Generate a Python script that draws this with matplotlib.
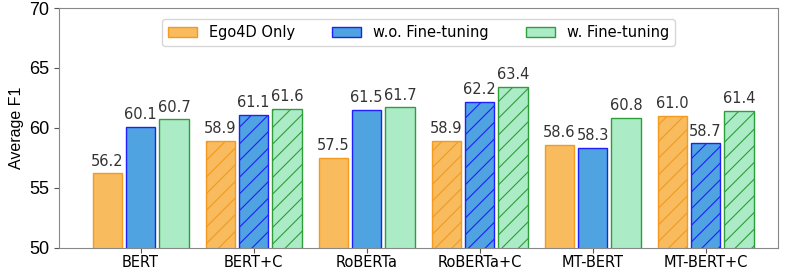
import numpy as np
import matplotlib.pyplot as plt

# data
models = ["BERT", "BERT+C", "RoBERTa", "RoBERTa+C", "MT-BERT", "MT-BERT+C"]
ego4d_only = [56.2, 58.9, 57.5, 58.9, 58.6, 61.0]
wo_finetune = [60.1, 61.1, 61.5, 62.2, 58.3, 58.7]
w_finetune = [60.7, 61.6, 61.7, 63.4, 60.8, 61.4]
hatched = [False, True, False, True, False, True]

series = [
    ("Ego4D Only", ego4d_only, "#f8bb5e", "#f39a1f"),
    ("w.o. Fine-tuning", wo_finetune, "#4fa3e0", "#1f1fff"),
    ("w. Fine-tuning", w_finetune, "#abebc6", "#2e9e3a"),
]

plt.rcParams['hatch.linewidth'] = 0.8
fig, ax = plt.subplots(figsize=(7.89, 2.72), dpi=100)

x = np.arange(len(models))
width = 0.26
offsets = [-0.295, 0, 0.295]

for (label, vals, fc, ec), off in zip(series, offsets):
    for i, v in enumerate(vals):
        ax.bar(x[i] + off, v, width, color=fc, edgecolor=ec, linewidth=1.0,
               hatch='//' if hatched[i] else None,
               label=label if i == 0 else None)
        ax.text(x[i] + off, v + 0.4, f"{v:.1f}", ha='center', va='bottom',
                fontsize=10.5, color='#333333')

ax.set_ylim(50, 70)
ax.set_xlim(-0.72, 5.64)
ax.set_yticks([50, 55, 60, 65, 70])
ax.set_yticklabels(["50", "55", "60", "65", "70"], fontsize=13, family='Liberation Sans')
ax.set_xticks(x)
ax.set_xticklabels(models, fontsize=10.5)
ax.tick_params(axis='x', pad=2)
ax.set_ylabel("Average F1", fontsize=11.5, family='Liberation Sans')

for s in ax.spines.values():
    s.set_color('#888888')
ax.tick_params(colors='#555555', labelcolor='black')

ax.legend(loc='upper center', ncol=3, fontsize=10.5, frameon=True,
          bbox_to_anchor=(0.5, 0.985), columnspacing=2.5, handlelength=2.0,
          handletextpad=0.85)

plt.subplots_adjust(left=0.075, right=0.986, top=0.97, bottom=0.09)
plt.savefig("out.png", dpi=100)
